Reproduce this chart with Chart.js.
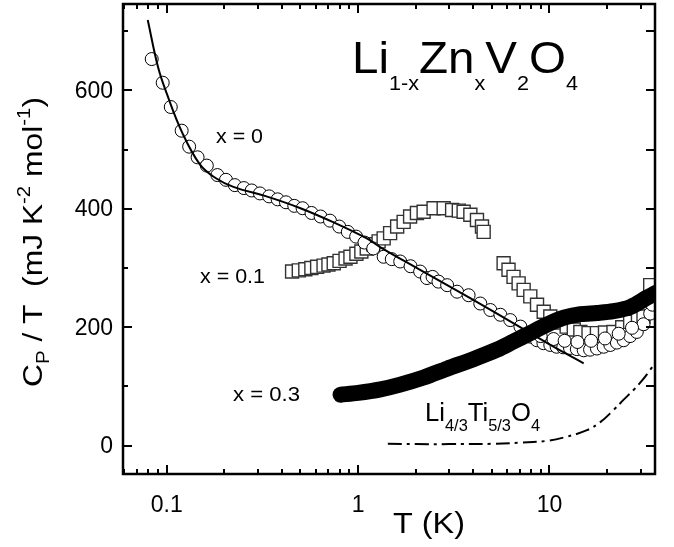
<!DOCTYPE html>
<html>
<head>
<meta charset="utf-8">
<script src="https://cdn.jsdelivr.net/npm/chart.js@4"></script>
<style>
  body { margin: 0; background: #fff; }
  canvas { display: block; }
</style>
</head>
<body>
<canvas id="cpChart" width="674" height="547"></canvas>
<script>
// x = 0 (open circles)
const x0T = [0.0835, 0.0953, 0.105, 0.1197, 0.131, 0.145, 0.162, 0.184, 0.204, 0.227, 0.253, 0.278, 0.307, 0.343, 0.38, 0.42, 0.464, 0.513, 0.571, 0.637, 0.713, 0.797, 0.884, 0.977, 1.08, 1.2, 1.36, 1.5, 1.66, 1.88, 2.11, 2.29, 2.45, 2.63, 2.92, 3.29, 3.78, 4.35, 4.91, 5.54, 6.24, 7.05, 7.94, 8.6, 9.3, 10.1, 10.9, 11.8, 12.8, 13.9, 15.1, 16.3, 17.7, 19.2, 20.8, 22.5, 24.4, 26.4, 28.6, 31, 33.6,
    9.0, 10.5, 12, 14, 16.5, 19.5, 23, 27, 34.5];
const x0Val = [653, 613, 572, 532, 505, 487, 473, 457, 449, 440, 435, 431, 426, 421, 416, 411, 405, 401, 393, 387, 380, 370, 361, 353, 343, 333, 319, 315, 311, 303, 294, 283, 285, 277, 271, 260, 254, 240, 229, 221, 212, 201, 184, 178, 173, 170, 167, 166, 165, 163, 161, 162, 164, 167, 170, 174, 178, 185, 192, 205, 223,
    185, 180, 177, 175, 177, 181, 189, 199, 238];

// fit curve through x = 0
const fitT = [0.0796, 0.09, 0.1, 0.12, 0.149, 0.18, 0.223, 0.332, 0.5, 0.746, 1.11, 1.31, 2, 3, 5, 10, 15.1];
const fitVal = [719, 640, 595, 530, 475, 452, 437, 421, 401, 377, 350, 335, 301, 269, 228, 171, 139];

// x = 0.1 (open squares)
const x1T = [0.452, 0.49, 0.53, 0.57, 0.611, 0.66, 0.7, 0.746, 0.8, 0.86, 0.912, 0.98, 1.04, 1.11, 1.2, 1.28, 1.36, 1.47, 1.6, 1.73, 1.87, 2.03, 2.2, 2.48, 2.8, 3.1, 3.36, 3.56, 3.86, 4.18, 4.44, 4.53, 5.76, 6.11, 6.49, 6.9, 7.33, 7.94, 8.61, 9.33, 10.1, 11.2, 12.3, 13.4, 14.5, 16, 17.7, 19.5, 21.6, 24, 26.4, 29, 31, 33.6];
const x1Val = [294, 296, 298, 300, 302, 304, 306, 308, 312, 316, 319, 324, 328, 333, 340, 345, 350, 359, 370, 378, 387, 393, 395, 401, 401, 398, 397, 395, 390, 381, 370, 361, 308, 297, 285, 274, 263, 252, 238, 226, 218, 208, 201, 196, 192, 190, 190, 191, 192, 200, 209, 214, 218, 271];

// x = 0.3 (filled circles, dense band)
const x3T = [0.81, 1.0, 1.31, 1.66, 2.2, 2.92, 4, 5.32, 6.5, 7.94, 9.5, 11.9, 14.5, 17.7, 21.6, 26.4, 32.4, 36];
const x3Val = [86, 89, 95, 103, 115, 130, 146, 162, 176, 190, 203, 216, 222, 224, 227, 234, 250, 258];

// Li4/3Ti5/3O4 reference (dash-dot)
const ltoT = [1.43, 2, 3, 5, 7, 9.7, 12, 15.7, 18.5, 21.6, 24.5, 27.5, 30.5, 33.6, 36];
const ltoVal = [3, 2.5, 2.5, 3, 5, 8, 14, 26, 40, 60, 78, 94, 110, 128, 142];

const xTickLabels = [0.1, 1, 10];
const yTickLabels = [0, 200, 400, 600];

const FONT = 'Liberation Sans, Arial, sans-serif';

function pts(xs, ys) {
    return xs.map((x, i) => ({ x: x, y: ys[i] }));
}

function richWidth(ctx, parts) {
    let w = 0;
    parts.forEach(p => {
        ctx.font = p[1] + 'px ' + FONT;
        w += ctx.measureText(p[0]).width;
    });
    return w;
}

// draws [text, size, baselineShift] pieces from (x, y), stretched to the given width
function richText(ctx, x, y, parts, width) {
    const natural = richWidth(ctx, parts);
    const sx = width ? width / natural : 1;
    ctx.save();
    ctx.translate(x, y);
    ctx.scale(sx, 1);
    let cx = 0;
    parts.forEach(p => {
        ctx.font = p[1] + 'px ' + FONT;
        ctx.fillText(p[0], cx, p[2]);
        cx += ctx.measureText(p[0]).width;
    });
    ctx.restore();
}

const framePlugin = {
    id: 'frame',
    afterDatasetsDraw(chart) {
        const ctx = chart.ctx;
        const a = chart.chartArea;
        const xs = chart.scales.x;
        const ys = chart.scales.y;
        ctx.save();
        ctx.strokeStyle = '#000';
        ctx.lineWidth = 2.5;
        ctx.strokeRect(a.left, a.top, a.right - a.left, a.bottom - a.top);
        ctx.lineWidth = 2;
        ctx.beginPath();
        for (let d = -2; d <= 1; d++) {
            for (let k = 1; k <= 9; k++) {
                const v = k * Math.pow(10, d);
                if (v < xs.min || v > xs.max) continue;
                const px = Math.round(xs.getPixelForValue(v));
                const len = k === 1 ? 9 : 5;
                ctx.moveTo(px, a.bottom);
                ctx.lineTo(px, a.bottom - len);
                ctx.moveTo(px, a.top);
                ctx.lineTo(px, a.top + len);
            }
        }
        for (let v = 0; v <= 700; v += 100) {
            const py = Math.round(ys.getPixelForValue(v));
            const len = v % 200 === 0 ? 9 : 5;
            ctx.moveTo(a.left, py);
            ctx.lineTo(a.left + len, py);
            ctx.moveTo(a.right, py);
            ctx.lineTo(a.right - 9, py);
        }
        ctx.stroke();

        // y tick labels
        ctx.fillStyle = '#000';
        ctx.font = '23px ' + FONT;
        ctx.textAlign = 'right';
        ctx.textBaseline = 'middle';
        yTickLabels.forEach(v => {
            ctx.fillText(String(v), a.left - 10, ys.getPixelForValue(v) + 1);
        });
        ctx.restore();
    },
    afterDraw(chart) {
        const ctx = chart.ctx;
        ctx.save();
        ctx.fillStyle = '#000';
        ctx.textBaseline = 'alphabetic';
        ctx.textAlign = 'left';

        richText(ctx, 352, 73, [['Li', 44, 0], ['1-x', 20, 17], ['Zn', 44, 0], ['x', 20, 17],
            ['V', 44, 0], ['2', 20, 17], ['O', 44, 0], ['4', 20, 17]], 226);

        richText(ctx, 216, 143, [['x = 0', 20, 0]], 47);
        richText(ctx, 200, 283, [['x = 0.1', 20, 0]], 65);
        richText(ctx, 233, 401, [['x = 0.3', 20, 0]], 67);
        richText(ctx, 425, 421, [['Li', 25, 0], ['4/3', 16, 10], ['Ti', 25, 0], ['5/3', 16, 10],
            ['O', 25, 0], ['4', 16, 10]], 115);

        richText(ctx, 393, 533, [['T (K)', 30, 0]], 72);

        const yParts = [['C', 28, 0], ['P', 18, 7], [' / T  (mJ K', 28, 0], ['-2', 18, -12],
            [' mol', 28, 0], ['-1', 18, -12], [')', 28, 0]];
        ctx.translate(42, 242);
        ctx.rotate(-Math.PI / 2);
        richText(ctx, -145, 0, yParts, 290);
        ctx.restore();
    }
};

const ctx = document.getElementById('cpChart').getContext('2d');
new Chart(ctx, {
    type: 'scatter',
    data: {
        datasets: [
            {
                label: 'x = 0.3',
                data: pts(x3T, x3Val),
                showLine: true,
                borderColor: '#000',
                borderWidth: 16,
                borderCapStyle: 'round',
                borderJoinStyle: 'round',
                tension: 0.3,
                pointRadius: 0
            },
            {
                label: 'fit',
                data: pts(fitT, fitVal),
                showLine: true,
                borderColor: '#000',
                borderWidth: 2,
                tension: 0.4,
                pointRadius: 0
            },
            {
                label: 'x = 0',
                data: pts(x0T, x0Val),
                pointStyle: 'circle',
                pointRadius: 6.5,
                backgroundColor: '#fff',
                borderColor: '#000',
                borderWidth: 1
            },
            {
                label: 'x = 0.1',
                data: pts(x1T, x1Val),
                pointStyle: 'rect',
                pointRadius: 9.2,
                backgroundColor: '#fff',
                borderColor: '#333',
                borderWidth: 1.4
            },
            {
                label: 'Li4/3Ti5/3O4',
                data: pts(ltoT, ltoVal),
                showLine: true,
                borderColor: '#000',
                borderWidth: 2,
                borderDash: [14, 5, 3, 5],
                tension: 0.4,
                pointRadius: 0
            }
        ]
    },
    options: {
        responsive: false,
        animation: false,
        layout: { autoPadding: false, padding: { top: 4, right: 19, left: 0, bottom: 0 } },
        plugins: { legend: { display: false }, tooltip: { enabled: false } },
        scales: {
            x: {
                type: 'logarithmic',
                min: 0.0591,
                max: 35.6,
                grid: { display: false },
                border: { display: false },
                afterFit: s => { s.height = 73; s.paddingLeft = 0; s.paddingRight = 0; },
                afterBuildTicks: s => { s.ticks = xTickLabels.map(v => ({ value: v })); },
                ticks: {
                    autoSkip: false,
                    maxRotation: 0,
                    padding: 10,
                    color: '#000',
                    font: { family: FONT, size: 23 },
                    callback: v => String(v)
                }
            },
            y: {
                min: -48,
                max: 746,
                grid: { display: false },
                border: { display: false },
                afterFit: s => { s.width = 123; s.paddingTop = 0; s.paddingBottom = 0; },
                afterBuildTicks: s => { s.ticks = yTickLabels.map(v => ({ value: v })); },
                ticks: { display: false }
            }
        }
    },
    plugins: [framePlugin]
});
</script>
</body>
</html>
